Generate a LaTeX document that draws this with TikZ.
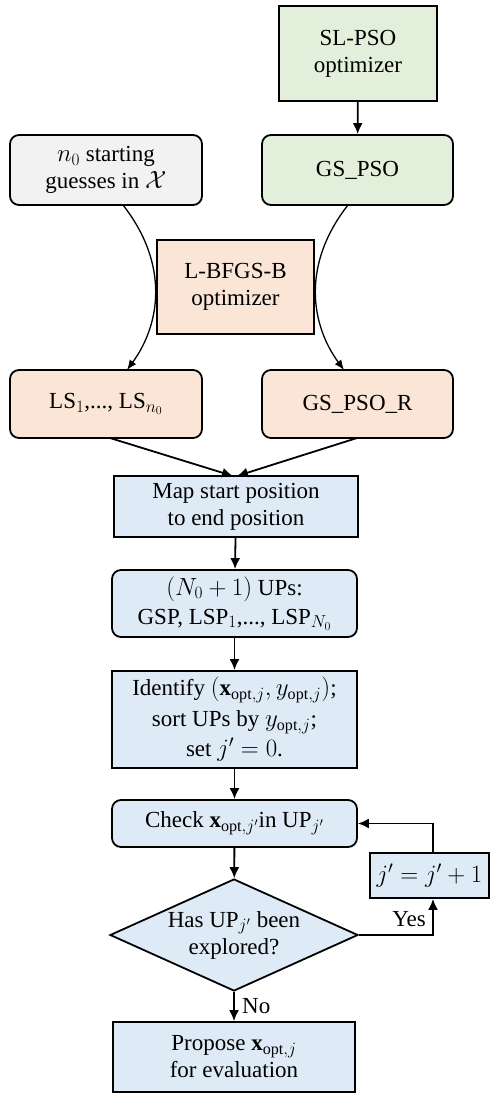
\documentclass[tikz,border=0pt]{standalone}
\usepackage{fontspec}
\setmainfont{Liberation Serif}
\usetikzlibrary{shapes.geometric,arrows.meta}
\definecolor{cgreen}{HTML}{E2EFDA}
\definecolor{cgray}{HTML}{F2F2F2}
\definecolor{cpeach}{HTML}{FBE5D6}
\definecolor{cblue}{HTML}{DEEBF7}
\begin{document}
\begin{tikzpicture}[x=1pt,y=-1pt,
  font=\fontsize{23}{27}\selectfont,
  box/.style={draw=black,line width=1.8pt,align=center,inner sep=0pt},
  rbox/.style={box,rounded corners=9pt},
  arr/.style={-{Latex[length=11pt,width=10pt]},line width=1.8pt},
  carr/.style={-{Latex[length=10pt,width=8pt]},line width=1.3pt}]
\useasboundingbox (0,0) rectangle (490,1093);
\node[box,fill=cgreen,minimum width=158pt,minimum height=95pt] (sl) at (358,53.5) {SL-PSO\\optimizer};
\node[rbox,fill=cgreen,minimum width=191pt,minimum height=70pt] (gs) at (357.5,170) {GS\_PSO};
\node[rbox,fill=cgray,minimum width=192pt,minimum height=70pt] (n0) at (106,170) {$n_{0}$ starting\\guesses in $\mathcal{X}$};
\node[box,fill=cpeach,minimum width=157pt,minimum height=94pt] (lb) at (235.5,287) {L-BFGS-B\\optimizer};
\node[rbox,fill=cpeach,minimum width=192pt,minimum height=68pt] (ls) at (106,404) {LS$_{1}$,..., LS$_{n_0}$};
\node[rbox,fill=cpeach,minimum width=191pt,minimum height=68pt] (gsr) at (357.5,404) {GS\_PSO\_R};
\node[box,fill=cblue,minimum width=244pt,minimum height=61pt] (map) at (236,506.5) {Map start position\\to end position};
\node[rbox,fill=cblue,minimum width=245pt,minimum height=67pt] (ups) at (234.5,603.5) {$(N_0+1)$ UPs:\\[2pt]GSP, LSP$_{1}$,..., LSP$_{N_0}$};
\node[box,fill=cblue,minimum width=245pt,minimum height=97pt] (idf) at (234.5,719.5) {Identify $(\mathbf{x}_{\mathrm{opt},j},y_{\mathrm{opt},j})$;\\[4pt]sort UPs by $y_{\mathrm{opt},j}$;\\[3pt]set $j'=0$.};
\node[rbox,fill=cblue,minimum width=245pt,minimum height=47pt] (chk) at (234.5,823.5) {Check $\mathbf{x}_{\mathrm{opt},j'}$in UP$_{j'}$};
\node[diamond,draw=black,line width=1.8pt,fill=cblue,minimum width=248pt,minimum height=112pt,inner sep=0pt,align=center,aspect=2.2] (dia) at (234,935) {Has UP$_{j'}$ been\\explored?};
\node[box,fill=cblue,minimum width=119pt,minimum height=45pt] (inc) at (429.5,875.5) {$j'=j'+1$};
\node[box,fill=cblue,minimum width=242pt,minimum height=70pt] (prop) at (234,1057) {Propose $\mathbf{x}_{\mathrm{opt},j}$\\for evaluation};
\coordinate (yc) at (433,935);
\coordinate (ic) at (433,823.5);
\coordinate (c1) at (123,205);
\coordinate (c2) at (127,370);
\coordinate (c3) at (348,205);
\coordinate (c4) at (344,370);
\coordinate (m1) at (233,476);
\coordinate (m2) at (237,476);
\coordinate (l1) at (110,438);
\coordinate (r1) at (357,438);
\draw[arr] (sl) -- (gs);
\draw[carr] (c1) .. controls (170,265) and (160,325) .. (c2);
\draw[carr] (c3) .. controls (301,265) and (311,325) .. (c4);
\draw[arr] (l1) -- (m1);
\draw[arr] (r1) -- (m2);
\draw[arr] (map) -- (ups);
\draw[arr] (ups) -- (idf);
\draw[arr] (idf) -- (chk);
\draw[arr] (chk) -- (dia);
\draw[arr] (dia) -- node[right=4pt]{No} (prop);
\draw[arr] (dia.east) -- (yc) -- node[left=3pt,pos=0.45]{Yes} (yc |- inc.south);
\draw[arr] (inc.north -| ic) -- (ic) -- (chk.east);
\end{tikzpicture}
\end{document}
